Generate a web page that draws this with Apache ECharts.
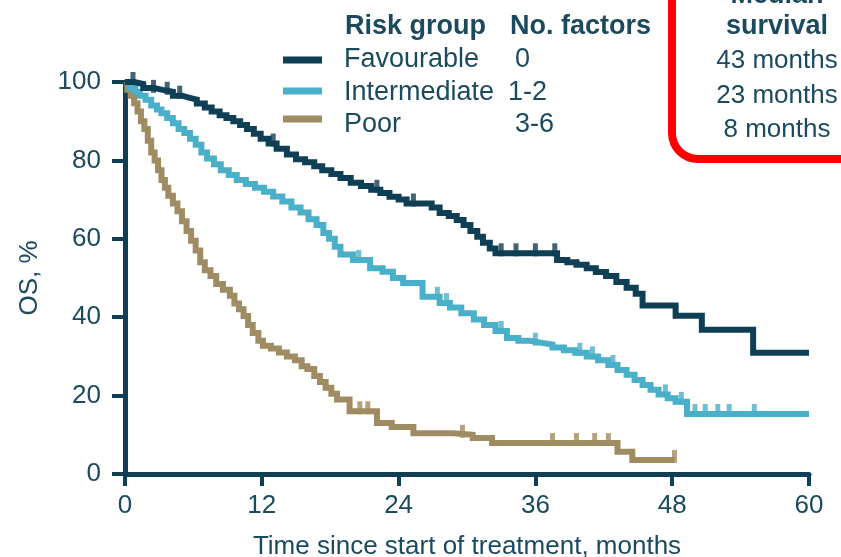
<!DOCTYPE html>
<html>
<head>
<meta charset="utf-8">
<script src="https://cdn.jsdelivr.net/npm/echarts@6/dist/echarts.min.js"></script>
<style>
html,body{margin:0;padding:0;background:#fff;}
#chart{width:841px;height:557px;}
</style>
</head>
<body>
<div id="chart"></div>
<script>
// ---- Data ----
const groups = ['Favourable', 'Intermediate', 'Poor'];
const factors = ['0', '1-2', '3-6'];
const medians = ['43 months', '23 months', '8 months'];
const xTicks = [0, 12, 24, 36, 48, 60];
const yTicks = [0, 20, 40, 60, 80, 100];

const favT = [0, 0.8, 1.6, 2.5, 3.3, 4.2, 5.0, 5.6, 6.3, 7.0, 7.6, 8.3, 8.9, 9.5, 10.1, 10.7, 11.3, 11.9, 12.6, 13.3, 14.2, 15.0, 15.8, 16.6, 17.3, 18.1, 18.9, 19.8, 20.7, 21.6, 22.4, 23.2, 24.0, 24.7, 26.9, 27.6, 28.4, 29.1, 29.7, 30.3, 30.9, 31.4, 32.0, 32.5, 37.9, 38.8, 39.6, 40.5, 41.3, 42.2, 43.1, 44.0, 44.8, 45.4, 48.3, 50.6, 55.1, 60];
const favS = [100, 99.5, 98.5, 98, 97.5, 96.5, 96, 95.5, 94.5, 93.5, 92.5, 91.5, 90.8, 90, 89, 88, 86.8, 85.5, 84.3, 83, 81.5, 80.3, 79.5, 78.5, 77.5, 76.5, 75.5, 74.3, 73.5, 72.5, 71.7, 70.7, 70, 69, 68, 66.6, 65.8, 64.8, 63.5, 62, 60.5, 59, 57.5, 56.3, 54.6, 54, 53.4, 52.5, 51.5, 50.5, 49, 47.5, 46, 43, 40.4, 36.8, 30.9, 30.9];
const favCens = [0.7, 2.5, 3.7, 4.8, 13.0, 22.1, 25.3, 33.0, 34.3, 36.0, 37.7];

const intT = [0, 0.4, 0.9, 1.3, 1.8, 2.3, 2.8, 3.2, 3.7, 4.2, 4.7, 5.2, 5.7, 6.2, 6.7, 7.2, 7.8, 8.4, 9.1, 9.8, 10.6, 11.4, 12.2, 13.0, 13.8, 14.6, 15.4, 16.1, 16.8, 17.4, 17.9, 18.4, 18.9, 20.0, 21.5, 22.6, 23.5, 24.4, 26.1, 27.6, 28.5, 29.5, 30.6, 31.5, 32.5, 33.5, 34.5, 35.5, 36.5, 37.5, 38.5, 39.5, 40.5, 41.5, 42.4, 43.2, 44.0, 44.7, 45.4, 46.1, 46.8, 47.6, 48.3, 49.3, 60];
const intS = [100, 98.5, 97.5, 96.5, 95.5, 94, 93, 92, 90.8, 89.5, 88, 87, 85.5, 84, 82, 80.5, 79, 77.5, 76.3, 75, 74, 73, 72, 70.8, 69.5, 68, 66.7, 65, 63.5, 61.5, 60, 58, 56, 54.6, 52.5, 51.6, 50, 48.7, 45.2, 43.6, 42.5, 41, 39.4, 38, 36.5, 34.7, 34, 33.5, 33, 32.3, 31.6, 30.9, 30, 29, 27.8, 26.5, 25.3, 24, 22.7, 21.5, 20.3, 19.3, 18.4, 15.3, 15.3];
const intCens = [20.5, 27.4, 28.2, 33.0, 36.0, 39.9, 41.0, 42.8, 47.4, 48.8, 50.0, 50.9, 52.0, 53.0, 55.2];

const poorT = [0, 0.2, 0.5, 0.8, 1.1, 1.4, 1.7, 2.0, 2.3, 2.6, 2.9, 3.2, 3.5, 3.8, 4.2, 4.6, 5.0, 5.4, 5.8, 6.2, 6.6, 7.0, 7.5, 8.0, 8.6, 9.2, 9.6, 10.0, 10.4, 10.8, 11.2, 11.7, 12.1, 12.8, 13.5, 14.2, 14.9, 15.5, 16.0, 16.6, 17.1, 17.6, 18.1, 18.6, 19.7, 22.1, 23.4, 25.3, 28.8, 30.5, 32.2, 43.2, 44.5, 48.2];
const poorS = [100, 98, 96.5, 94.6, 92.5, 90, 88, 85, 82, 80, 77.5, 75, 73, 71, 69, 67, 64.5, 62, 59.5, 57, 54, 52, 50.5, 48.5, 47, 45.5, 43.5, 42, 40.3, 38, 36, 34, 32.7, 32, 31, 30, 29, 27.5, 26.8, 25, 23.5, 22, 20.5, 19, 16, 13, 12, 10.4, 10, 9.2, 7.9, 5.7, 3.6, 3.6];
const poorCens = [20.6, 21.3, 29.6, 37.5, 39.6, 41.2, 42.4, 48.2];

// ---- Styles ----
const NAVY = '#0f3f54';
const BLUE = '#4aafc8';
const TAN = '#a08c62';
const TXT = '#1b4a5f';
const FONT = "'Liberation Sans', Arial, sans-serif";
const colors = [NAVY, BLUE, TAN];

function zip(t, s) { return t.map((x, i) => [x, s[i]]); }
function stepAt(t, s, x) {
  let v = s[0];
  for (let i = 0; i < t.length; i++) { if (t[i] <= x) v = s[i]; else break; }
  return v;
}
const curves = [[favT, favS, favCens], [intT, intS, intCens], [poorT, poorS, poorCens]];

const series = [];
curves.forEach((c, i) => {
  series.push({
    name: groups[i], type: 'line', step: 'end', data: zip(c[0], c[1]),
    showSymbol: false, clip: false, z: 5 - i,
    lineStyle: { color: colors[i], width: 6, cap: 'butt', join: 'miter' },
    itemStyle: { color: colors[i] }, animation: false
  });
  series.push({
    name: groups[i] + ' censored', type: 'scatter', clip: false, z: 5 - i,
    data: c[2].map(x => [x, stepAt(c[0], c[1], x)]),
    symbol: 'rect', symbolSize: [5, 13], symbolOffset: [0, -3.5],
    itemStyle: { color: colors[i] }, animation: false, silent: true
  });
});

const graphic = [];
// legend header
graphic.push({ type: 'text', x: 345, y: 27, style: { text: 'Risk group', font: "bold 27px " + FONT, fill: TXT, verticalAlign: 'middle' } });
graphic.push({ type: 'text', x: 510, y: 27, style: { text: 'No. factors', font: "bold 27px " + FONT, fill: TXT, verticalAlign: 'middle' } });
const rowY = [60, 93, 125];
const lineY = [60, 91, 119];
const facX = [515, 508, 515];
groups.forEach((g, i) => {
  graphic.push({ type: 'line', shape: { x1: 283, y1: lineY[i], x2: 322, y2: lineY[i] }, style: { stroke: colors[i], lineWidth: 7 } });
  graphic.push({ type: 'text', x: 344, y: rowY[i], style: { text: g, font: "27px " + FONT, fill: TXT, verticalAlign: 'middle' } });
  graphic.push({ type: 'text', x: facX[i], y: rowY[i], style: { text: factors[i], font: "27px " + FONT, fill: TXT, verticalAlign: 'middle' } });
});
// median survival box
graphic.push({ type: 'rect', shape: { x: 672, y: -60, width: 230, height: 219, r: 26 }, style: { fill: 'none', stroke: '#ff0000', lineWidth: 8 } });
graphic.push({ type: 'text', x: 777, y: -4, style: { text: 'Median', font: "bold 27px " + FONT, fill: TXT, align: 'center', verticalAlign: 'middle' } });
graphic.push({ type: 'text', x: 777, y: 27, style: { text: 'survival', font: "bold 27px " + FONT, fill: TXT, align: 'center', verticalAlign: 'middle' } });
const medY = [61, 96, 130];
medians.forEach((m, i) => {
  graphic.push({ type: 'text', x: 777, y: medY[i], style: { text: m, font: "26px " + FONT, fill: TXT, align: 'center', verticalAlign: 'middle' } });
});

const chart = echarts.init(document.getElementById('chart'), null, { renderer: 'canvas' });
chart.setOption({
  animation: false,
  backgroundColor: '#ffffff',
  grid: { left: 125, right: 32, top: 82, bottom: 83, containLabel: false, outerBoundsMode: 'none' },
  xAxis: {
    type: 'value', min: xTicks[0], max: xTicks[xTicks.length - 1], interval: 12,
    name: 'Time since start of treatment, months', nameLocation: 'middle', nameGap: 60,
    nameTextStyle: { fontSize: 26, color: TXT, fontFamily: FONT },
    axisLine: { show: true, onZero: false, lineStyle: { color: NAVY, width: 5 } },
    axisTick: { show: true, length: 12, lineStyle: { color: NAVY, width: 4 } },
    axisLabel: { fontSize: 26, color: TXT, fontFamily: FONT, margin: 19 },
    splitLine: { show: false }
  },
  yAxis: {
    type: 'value', min: yTicks[0], max: yTicks[yTicks.length - 1], interval: 20,
    name: 'OS, %', nameLocation: 'middle', nameGap: 82, nameRotate: 90,
    nameTextStyle: { fontSize: 26, color: TXT, fontFamily: FONT },
    axisLine: { show: true, onZero: false, lineStyle: { color: NAVY, width: 5 } },
    axisTick: { show: true, length: 13, lineStyle: { color: NAVY, width: 4 } },
    axisLabel: { fontSize: 26, color: TXT, fontFamily: FONT, margin: 24 },
    splitLine: { show: false }
  },
  series: series,
  graphic: graphic
});
</script>
</body>
</html>
